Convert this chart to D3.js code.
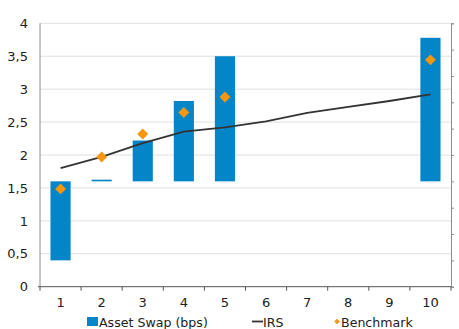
<!DOCTYPE html>
<html><head><meta charset="utf-8">
<script src="https://cdn.jsdelivr.net/npm/d3@7"></script>
<style>body{margin:0;background:#fff}svg{display:block;font-family:"DejaVu Sans",Verdana,sans-serif}</style>
</head><body>
<svg id="c" width="459" height="329"></svg>
<script>
const categories = [1,2,3,4,5,6,7,8,9,10];
const assetSwapBase = 1.6;
const assetSwap = [-1.2, 0.025, 0.62, 1.22, 1.9, null, null, null, null, 2.18];
const irs = [1.80, 1.97, 2.18, 2.355, 2.42, 2.51, 2.64, 2.73, 2.82, 2.92];
const benchmark = [1.485, 1.97, 2.32, 2.645, 2.88, null, null, null, null, 3.445];
const yTicks = [0,0.5,1,1.5,2,2.5,3,3.5,4];
const yTickLabels = ["0","0,5","1","1,5","2","2,5","3","3,5","4"];

const svg = d3.select("#c");
const L=40, R=451, T=23.3, B=286.7;
const x = d3.scaleBand().domain(categories).range([L,R]).padding(0);
const y = d3.scaleLinear().domain([0,4]).range([B,T]);
const y2 = d3.scaleLinear().domain([0,10]).range([B,T]);

// gridlines
svg.append("g").selectAll("line").data(yTicks.filter(d=>d>0)).join("line")
  .attr("x1",L).attr("x2",R).attr("y1",d=>y(d)).attr("y2",d=>y(d))
  .attr("stroke","#e0e0e0").attr("stroke-width",1);

// bars
const bars = categories.map((c,i)=>({c, v:assetSwap[i]})).filter(d=>d.v!==null);
const bw = x.bandwidth()*0.49;
svg.append("g").selectAll("rect").data(bars).join("rect")
  .attr("x",d=>x(d.c)+x.bandwidth()/2-bw/2)
  .attr("width",bw)
  .attr("y",d=>Math.min(y(assetSwapBase),y(assetSwapBase+d.v)))
  .attr("height",d=>Math.max(1.5,Math.abs(y(assetSwapBase)-y(assetSwapBase+d.v))))
  .attr("fill","#0485c8");

// IRS line
const line = d3.line().x((d,i)=>x(categories[i])+x.bandwidth()/2).y(d=>y(d));
svg.append("path").datum(irs).attr("d",line).attr("fill","none")
  .attr("stroke","#333").attr("stroke-width",1.8);

// benchmark diamonds
const bm = categories.map((c,i)=>({c,v:benchmark[i]})).filter(d=>d.v!==null);
svg.append("g").selectAll("path").data(bm).join("path")
  .attr("d",d3.symbol().type(d3.symbolDiamond2).size(76))
  .attr("transform",d=>`translate(${x(d.c)+x.bandwidth()/2},${y(d.v)})`)
  .attr("fill","#f7960f");

// left axis
svg.append("line").attr("x1",L).attr("x2",L).attr("y1",T).attr("y2",B).attr("stroke","#8c8c8c");
svg.append("g").selectAll("text").data(yTicks).join("text")
  .attr("x",L-12).attr("y",d=>y(d)+4.7).attr("text-anchor","end")
  .attr("font-size",13).attr("fill","#222").text((d,i)=>yTickLabels[i]);

// right axis
const gR = svg.append("g").attr("transform",`translate(${R},0)`)
  .call(d3.axisRight(y2).ticks(10).tickSize(3).tickFormat(""));
gR.select(".domain").attr("stroke","#8c8c8c");
gR.selectAll(".tick line").attr("stroke","#8c8c8c");

// bottom axis
const gB = svg.append("g").attr("transform",`translate(0,${B})`)
  .call(d3.axisBottom(x).tickSize(0).tickPadding(9));
gB.select(".domain").remove();
svg.append("line").attr("x1",L-2).attr("x2",R).attr("y1",B).attr("y2",B).attr("stroke","#555");
svg.append("g").selectAll("line").data(d3.range(categories.length+1)).join("line")
  .attr("x1",i=>L+i*x.step()).attr("x2",i=>L+i*x.step()).attr("y1",B).attr("y2",B+4)
  .attr("stroke","#555");
gB.selectAll("text").attr("font-size",13).attr("fill","#222").attr("font-family","DejaVu Sans, Verdana, sans-serif").attr("dy","0.9em");

// legend
const lg = svg.append("g").attr("font-size",12.6).attr("fill","#222");
lg.append("rect").attr("x",87).attr("y",317).attr("width",11).attr("height",9).attr("fill","#0485c8");
lg.append("text").attr("x",99).attr("y",326.5).text("Asset Swap (bps)");
lg.append("line").attr("x1",252).attr("x2",263).attr("y1",321.5).attr("y2",321.5).attr("stroke","#333").attr("stroke-width",1.8);
lg.append("text").attr("x",263).attr("y",326.5).text("IRS");
lg.append("path").attr("d",d3.symbol().type(d3.symbolDiamond2).size(20)).attr("transform","translate(337,321.5)").attr("fill","#f7960f");
lg.append("text").attr("x",341).attr("y",326.5).text("Benchmark");
</script>
</body></html>
